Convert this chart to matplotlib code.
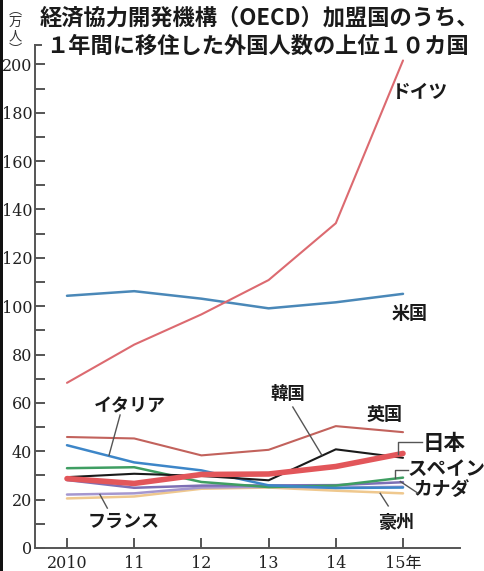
import matplotlib
matplotlib.use("Agg")
import matplotlib.pyplot as plt
from matplotlib.ticker import MultipleLocator
from matplotlib.patches import Rectangle

plt.rcParams['font.family'] = ['Noto Sans CJK JP', 'DejaVu Sans']

years = [2010, 2011, 2012, 2013, 2014, 2015]
year_labels = ["2010", "11", "12", "13", "14", "15年"]

germany = [68.3, 84.1, 96.6, 110.8, 134.3, 201.6]
usa = [104.3, 106.2, 103.1, 99.1, 101.6, 105.1]
uk = [45.9, 45.3, 38.3, 40.6, 50.4, 47.9]
japan = [28.7, 26.7, 30.4, 30.6, 33.7, 39.1]
korea = [29.3, 30.7, 29.8, 28.0, 40.8, 37.3]
italy = [42.5, 35.4, 32.1, 25.9, 24.8, 25.0]
spain = [33.0, 33.4, 27.3, 25.2, 25.8, 29.1]
canada = [28.1, 24.9, 25.8, 25.9, 26.0, 27.2]
france = [22.1, 22.6, 25.0, 25.3, 25.0, 25.3]
australia = [20.5, 21.3, 24.5, 25.0, 23.7, 22.6]

title1 = "経済協力開発機構（OECD）加盟国のうち、"
title2 = "１年間に移住した外国人数の上位１０カ国"
unit_chars = ["︵", "万", "人", "︶"]

fig = plt.figure(figsize=(4.84, 5.71), dpi=100)
fig.patch.set_facecolor('white')
ax = fig.add_axes([35/484, 23/571, 425/484, 503/571])

ax.set_xlim(2009.524, 2015.848)
ax.set_ylim(0, 208)

series = [
    (australia, '#efc88e', 1.8, 2),
    (france, '#a597cf', 1.8, 2),
    (canada, '#7d70b5', 1.8, 2),
    (spain, '#3f9e62', 1.8, 3),
    (italy, '#3d86c8', 1.8, 3),
    (uk, '#c2625c', 1.5, 3),
    (korea, '#1a1a1a', 1.5, 4),
    (usa, '#4a88b8', 1.8, 3),
    (germany, '#dc6a70', 1.5, 3),
    (japan, '#e2565a', 4.0, 5),
]
for vals, col, lw, z in series:
    ax.plot(years, vals, color=col, lw=lw, zorder=z, solid_capstyle='round')

for s in ['top', 'right']:
    ax.spines[s].set_visible(False)
for s in ['left', 'bottom']:
    ax.spines[s].set_color('#555555')
    ax.spines[s].set_linewidth(1.4)

ax.yaxis.set_minor_locator(MultipleLocator(10))
ax.set_yticks(range(0, 201, 20))
ax.set_yticklabels([str(v) for v in range(0, 201, 20)])
ax.tick_params(axis='y', which='both', direction='in', length=7, width=1.4,
               color='#555555', pad=2)
ax.set_xticks(years)
ax.set_xticklabels(year_labels)
ax.tick_params(axis='x', direction='in', length=7, width=1.4, color='#555555', pad=5)
for lab in ax.get_xticklabels() + ax.get_yticklabels():
    lab.set_family(['DejaVu Serif', 'Noto Sans CJK JP'])
    lab.set_fontsize(11.5)
    lab.set_color('#222222')

# top hook of y axis
ax.plot([2009.524, 2009.62], [208, 208], color='#555555', lw=1.4, clip_on=False)

fig.text(259/484, 1-18/571, title1, ha='center', va='center', fontsize=16,
         fontweight='bold', color='#1a1a1a')
fig.text(257/484, 1-46/571, title2, ha='center', va='center', fontsize=16,
         fontweight='bold', color='#1a1a1a')
unit_y = [10, 22, 37, 50]
for ch, yy in zip(unit_chars, unit_y):
    fig.text(15/484, 1-yy/571, ch, ha='center', va='center', fontsize=9.5,
             color='#333333')

labels = [
    ("ドイツ", 2015.25, 188.4, 13.5),
    ("米国", 2015.10, 97.1, 13),
    ("イタリア", 2010.94, 58.7, 13),
    ("韓国", 2013.29, 63.6, 12.5),
    ("英国", 2014.73, 55.4, 13),
    ("日本", 2015.61, 43.4, 15.5),
    ("スペイン", 2015.64, 32.6, 14),
    ("カナダ", 2015.58, 24.4, 13.5),
    ("豪州", 2014.90, 10.7, 13),
    ("フランス", 2010.85, 11.2, 13),
]
for t, x, y, fs in labels:
    ax.text(x, y, t, ha='center', va='center', fontsize=fs, fontweight='bold',
            color='#1a1a1a', zorder=6, clip_on=False)

leaders = [
    ([2010.79, 2010.625], [55.0, 38.3]),
    ([2013.36, 2013.79], [58.3, 38.5]),
    ([2015.28, 2014.93, 2014.93], [43.8, 43.8, 38.9]),
    ([2015.07, 2014.88, 2014.88], [32.2, 32.2, 29.0]),
    ([2014.96, 2015.22], [27.5, 22.7]),
    ([2014.66, 2014.78], [22.6, 17.4]),
    ([2010.49, 2010.60], [22.1, 16.5]),
]
for xs, ys in leaders:
    ax.plot(xs, ys, color='#555555', lw=1.0, zorder=6, clip_on=False)

fig.patches.append(Rectangle((0, 0), 3/484, 1, transform=fig.transFigure,
                             facecolor='#111111', edgecolor='none'))

fig.savefig('out.png', dpi=100, facecolor='white')
